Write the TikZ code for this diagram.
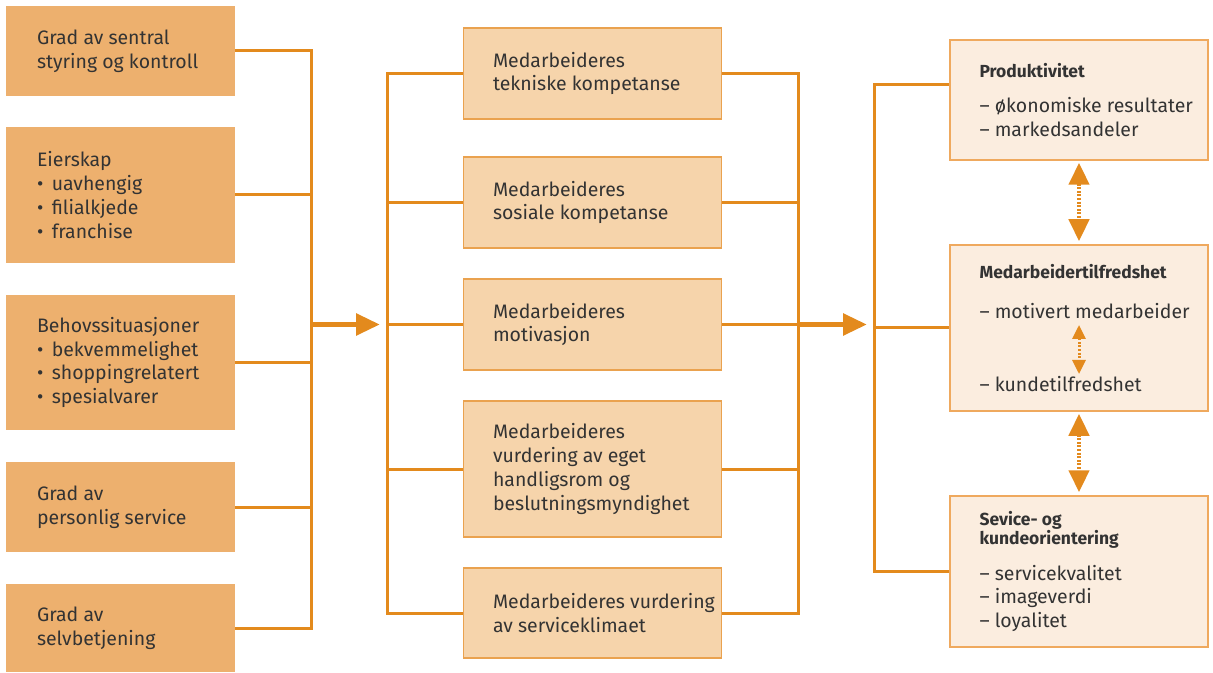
\documentclass[tikz,border=0pt]{standalone}
\usepackage{fontspec}
\setmainfont{Fira Sans}
\usetikzlibrary{arrows.meta}

\newdimen\px \px=0.75pt
\definecolor{linec}{HTML}{E38A1D}
\definecolor{lfill}{HTML}{EDB06E}
\definecolor{mfill}{HTML}{F6D4AB}
\definecolor{mdraw}{HTML}{EAA24F}
\definecolor{rfill}{HTML}{FBEDDF}
\definecolor{rdraw}{HTML}{EFA95E}
\definecolor{textc}{HTML}{333333}
\newcommand\hd[1]{{\fontsize{13.1}{15}\selectfont\bfseries #1}}
\newcommand\itm{\textbullet\ \hspace{2.5pt}}

\begin{document}
\begin{tikzpicture}[x=0.75pt, y=-0.75pt, line join=miter,
  wire/.style={draw=linec, line width=3\px},
  bigarrow/.style={draw=linec, line width=5.5\px, -{Triangle[length=18pt,width=15.75pt]}, shorten >=7\px},
  duo/.style={draw=linec, line width=4.5\px, dash pattern=on 1.5pt off 1.2pt,
    {Triangle[length=16.5pt,width=15pt]}-{Triangle[length=16.5pt,width=15pt]}, shorten <=2\px, shorten >=3\px},
  duosmall/.style={draw=linec, line width=3\px, dash pattern=on 1.5pt off 1.2pt,
    {Triangle[length=10.5pt,width=9.75pt]}-{Triangle[length=10.5pt,width=9.75pt]}},
  lbox/.style={rectangle, fill=lfill, minimum width=229\px, inner sep=0pt},
  mbox/.style={rectangle, fill=mfill, draw=mdraw, line width=1.5\px, minimum width=258\px, inner sep=0pt},
  rbox/.style={rectangle, fill=rfill, draw=rdraw, line width=1.5\px, minimum width=258\px, inner sep=0pt},
  txt/.style={anchor=west, align=left, inner sep=0pt, text=textc, font=\fontsize{14.6}{17.8}\selectfont}]
  \useasboundingbox (0,0) rectangle (1213,673);

  \node[lbox, minimum height=90\px] (l1) at (120.5,51) {};
  \node[lbox, minimum height=136\px] (l2) at (120.5,195) {};
  \node[lbox, minimum height=135\px] (l3) at (120.5,362.5) {};
  \node[lbox, minimum height=90\px] (l4) at (120.5,507) {};
  \node[lbox, minimum height=88\px] (l5) at (120.5,628) {};
  \node[txt] (l1t) at ([xshift=31\px]l1.west) {Grad av sentral\\styring og kontroll};
  \node[txt] (l2t) at ([xshift=31\px]l2.west) {Eierskap\\\itm uavhengig\\\itm filialkjede\\\itm franchise};
  \node[txt] (l3t) at ([xshift=31\px]l3.west) {Behovssituasjoner\\\itm bekvemmelighet\\\itm shoppingrelatert\\\itm spesialvarer};
  \node[txt] (l4t) at ([xshift=31\px]l4.west) {Grad av\\personlig service};
  \node[txt] (l5t) at ([xshift=31\px]l5.west) {Grad av\\selvbetjening};

  \node[mbox, minimum height=91\px] (m1) at (592.5,73.5) {};
  \node[mbox, minimum height=91\px] (m2) at (592.5,202.5) {};
  \node[mbox, minimum height=91\px] (m3) at (592.5,324.5) {};
  \node[mbox, minimum height=136\px] (m4) at (592.5,469) {};
  \node[mbox, minimum height=90\px] (m5) at (592.5,613) {};
  \node[txt] (m1t) at ([xshift=30\px]m1.west) {Medarbeideres\\tekniske kompetanse};
  \node[txt] (m2t) at ([xshift=30\px]m2.west) {Medarbeideres\\sosiale kompetanse};
  \node[txt] (m3t) at ([xshift=30\px]m3.west) {Medarbeideres\\motivasjon};
  \node[txt] (m4t) at ([xshift=30\px]m4.west) {Medarbeideres\\vurdering av eget\\handligsrom og\\beslutningsmyndighet};
  \node[txt] (m5t) at ([xshift=30\px]m5.west) {Medarbeideres vurdering\\av serviceklimaet};

  \node[rbox, minimum height=120\px] (r1) at (1079,100) {};
  \node[rbox, minimum height=166\px] (r2) at (1079,328) {};
  \node[rbox, minimum height=151\px] (r3) at (1079,571.5) {};
  \node[txt] (r1t) at ([xshift=30\px]r1.west) {\hd{Produktivitet}\\[9pt]– økonomiske resultater\\– markedsandeler};
  \node[txt] (r2t) at ([xshift=30\px]r2.west) {\hd{Medarbeidertilfredshet}\\[12.5pt]– motivert medarbeider\\[36.5pt]– kundetilfredshet};
  \node[txt] (r3t) at ([xshift=30\px]r3.west) {\hd{Sevice- og}\\[-3.5pt]\hd{kundeorientering}\\[9pt]– servicekvalitet\\– imageverdi\\– loyalitet};

  \coordinate (lbus) at (311,324.5);
  \coordinate (mbusL) at (387,324.5);
  \coordinate (mbusR) at (798,324.5);
  \coordinate (rbus) at (874,324.5);
  \coordinate (r2a) at (1079,325);
  \coordinate (r2b) at (1079,374);

  \draw[wire] (l1.east) -| (lbus);
  \draw[wire] (l2.east) -| (lbus);
  \draw[wire] (l3.east) -| (lbus);
  \draw[wire] (l4.east) -| (lbus);
  \draw[wire] (l5.east) -| (lbus);
  \draw[bigarrow] (lbus) -- (mbusL);
  \draw[wire] (mbusL) |- (m1.west);
  \draw[wire] (mbusL) |- (m2.west);
  \draw[wire] (mbusL) |- (m3.west);
  \draw[wire] (mbusL) |- (m4.west);
  \draw[wire] (mbusL) |- (m5.west);
  \draw[wire] (m1.east) -| (mbusR);
  \draw[wire] (m2.east) -| (mbusR);
  \draw[wire] (m3.east) -| (mbusR);
  \draw[wire] (m4.east) -| (mbusR);
  \draw[wire] (m5.east) -| (mbusR);
  \draw[bigarrow] (mbusR) -- (rbus);
  \draw[wire] (rbus) |- ([yshift=15\px]r1.west);
  \draw[wire] (rbus) |- (r2.west);
  \draw[wire] (rbus) |- (r3.west);
  \draw[duo] (r1.south) -- (r2.north);
  \draw[duo] (r2.south) -- (r3.north);
  \draw[duosmall] (r2a) -- (r2b);
\end{tikzpicture}
\end{document}
